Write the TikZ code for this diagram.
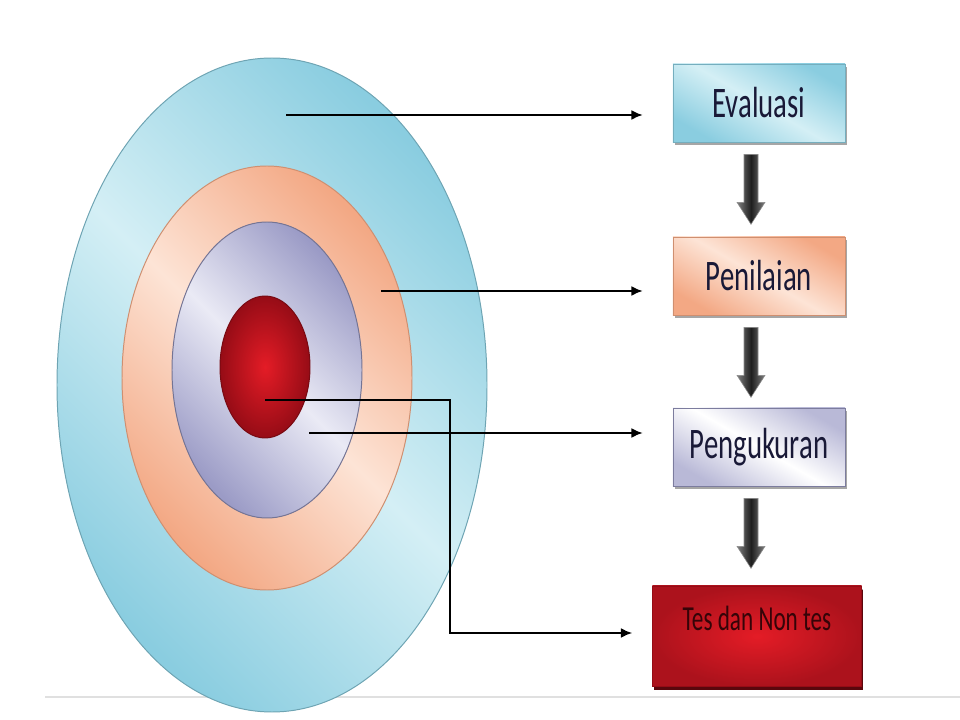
\documentclass[tikz,border=0pt]{standalone}
\usepackage{fontspec}
\setmainfont{Carlito}
\usetikzlibrary{calc,shadows,arrows.meta}

\definecolor{cyanD}{RGB}{138,205,224}
\definecolor{cyanL}{RGB}{212,239,245}
\definecolor{orangeD}{RGB}{243,168,132}
\definecolor{orangeL}{RGB}{253,228,214}
\definecolor{lavD}{RGB}{155,155,198}
\definecolor{lavL}{RGB}{234,234,245}
\definecolor{redD}{RGB}{150,12,22}
\definecolor{redE}{RGB}{172,18,28}
\definecolor{redL}{RGB}{228,28,38}
\definecolor{inktext}{RGB}{25,25,55}

\newcommand{\squeeze}[1]{\scalebox{0.66}[1]{#1}}

\tikzset{
  ring/.style={line width=0.7pt},
  box/.style={rectangle, minimum width=4.3cm, minimum height=1.95cm, inner sep=0pt,
    font=\fontsize{31}{31}\selectfont, text=inktext,
    drop shadow={shadow xshift=1.2pt, shadow yshift=-2.4pt, fill=black!50, opacity=0.7}},
  link/.style={-{Latex[length=8pt,width=7pt]}, line width=1.3pt},
  blockarr/.style={left color=black!50, right color=black!50, middle color=black!88, draw=black!45, line width=0.4pt}
}

\begin{document}
\begin{tikzpicture}[x=0.025cm, y=-0.025cm]
  \useasboundingbox (0,0) rectangle (960,720);
  \draw[black!12, line width=1pt] (45,697) -- (960,697);

  % rings
  \shade[ring, top color=cyanD, bottom color=cyanD, middle color=cyanL, shading angle=-45, draw=cyanD!80!black]
    (272,385) ellipse [x radius=215, y radius=327];
  \shade[ring, top color=orangeD, bottom color=orangeD, middle color=orangeL, shading angle=-45, draw=orangeD!85!black]
    (267,378) ellipse [x radius=145, y radius=212];
  \shade[ring, top color=lavD, bottom color=lavD, middle color=lavL, shading angle=-45, draw=lavD!75!black]
    (267,370) ellipse [x radius=95, y radius=148];
  \shade[ring, inner color=redL, outer color=redD, draw=redD!80!black]
    (265,367) ellipse [x radius=45, y radius=71];

  \coordinate (c1) at (286,115);
  \coordinate (c2) at (381,291);
  \coordinate (c3) at (309,433);
  \coordinate (c4) at (265,400);

  % boxes
  \node[box, top color=cyanD, bottom color=cyanD, middle color=cyanL, shading angle=-30, draw=cyanD!85!black] (eval) at (759,103) {\squeeze{Evaluasi}};
  \node[box, top color=orangeD, bottom color=orangeD, middle color=orangeL, shading angle=-30, draw=orangeD!85!black] (peni) at (759,276) {\squeeze{Penilaian}};
  \node[box, top color=lavD!70, bottom color=lavD!70, middle color=white, shading angle=-30, draw=lavD!80!black] (peng) at (759,447) {\squeeze{Pengukuran}};
  \node[box, minimum width=5.225cm, minimum height=2.5cm, text height=1.1cm, text depth=1.4cm,
    font=\fontsize{25}{25}\selectfont, text=redD!35!black, inner color=redL, outer color=redE,
    draw=redD, drop shadow={shadow xshift=1pt, shadow yshift=-3pt, fill=redD!60!black, opacity=1}]
    (tes) at (757,636) {\squeeze{Tes dan Non tes}};

  % block arrows between the boxes
  \foreach \a in {eval,peni,peng}
    \shade[blockarr, shift={($(\a.south)+(-8,12)$)}]
      (-7,0) -- (7,0) -- (7,48) -- (14,48) -- (0,70) -- (-14,48) -- (-7,48) -- cycle;

  % connectors
  \draw[link, shorten >=0.75cm] (c1) -- (c1 -| eval.west);
  \draw[link, shorten >=0.75cm] (c2) -- (c2 -| peni.west);
  \draw[link, shorten >=0.75cm] (c3) -- (c3 -| peng.west);
  \draw[link, shorten >=0.5cm] (c4) -- ++(185,0) |- ($(tes.west)+(0,-3)$);
\end{tikzpicture}
\end{document}
